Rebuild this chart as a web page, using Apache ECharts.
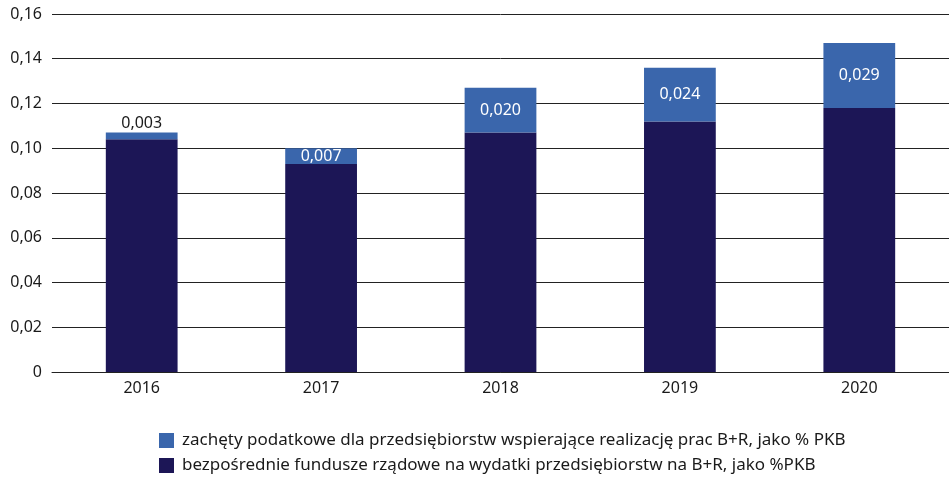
<!DOCTYPE html>
<html><head><meta charset="utf-8">
<script src="https://cdn.jsdelivr.net/npm/echarts@6/dist/echarts.min.js"></script>
<style>html,body{margin:0;padding:0;background:#fff}#c{width:949px;height:480px}</style>
</head><body><div id="c"></div>
<script>
var categories = ['2016', '2017', '2018', '2019', '2020'];
var directFunds = [0.104, 0.093, 0.107, 0.112, 0.118];
var taxIncentives = [0.003, 0.007, 0.020, 0.024, 0.029];
var yTicks = [0, 0.02, 0.04, 0.06, 0.08, 0.10, 0.12, 0.14, 0.16];
var seriesNames = [
  'zachęty podatkowe dla przedsiębiorstw wspierające realizację prac B+R, jako % PKB',
  'bezpośrednie fundusze rządowe na wydatki przedsiębiorstw na B+R, jako %PKB'
];
var FONT = '"Noto Sans", sans-serif';
var chart = echarts.init(document.getElementById('c'));
function fmt3(v){ return v.toFixed(3).replace('.', ','); }
chart.setOption({
  animation: false,
  textStyle: { fontFamily: FONT },
  grid: { left: 52, right: 0, top: 14, bottom: 108 },
  legend: {
    orient: 'vertical', left: 154, top: 427, itemGap: 8,
    itemWidth: 15, itemHeight: 15, icon: 'rect',
    data: [seriesNames[0], seriesNames[1]],
    textStyle: { fontSize: 17, color: '#1a1a1a', fontFamily: FONT, padding: [0,0,0,3] }
  },
  xAxis: {
    type: 'category', data: categories,
    axisLine: { lineStyle: { color: '#222', width: 1 } },
    axisTick: { show: false },
    axisLabel: { fontSize: 16, color: '#1a1a1a', margin: 8 }
  },
  yAxis: {
    type: 'value', min: 0, max: 0.16, interval: 0.02,
    axisLine: { show: false }, axisTick: { show: false },
    splitLine: { lineStyle: { color: '#222', width: 1 } },
    axisLabel: {
      fontSize: 16, color: '#1a1a1a', margin: 10,
      formatter: function(v){
        var t = yTicks.reduce(function(a,b){ return Math.abs(b-v) < Math.abs(a-v) ? b : a; });
        return t === 0 ? '0' : t.toFixed(2).replace('.', ',');
      }
    }
  },
  series: [
    {
      name: seriesNames[1], type: 'bar', stack: 'a', barWidth: '40%',
      itemStyle: { color: '#1c1656' },
      data: directFunds
    },
    {
      name: seriesNames[0], type: 'bar', stack: 'a', barWidth: '40%',
      itemStyle: { color: '#3a66ac' },
      data: taxIncentives.map(function(v){
        var small = v < 0.005;
        return { value: v, label: {
          show: true, position: small ? 'top' : 'inside',
          color: small ? '#1a1a1a' : '#ffffff', distance: 1,
          fontSize: 16, fontFamily: FONT, formatter: function(p){ return fmt3(p.value); }
        } };
      })
    }
  ]
});
</script></body></html>
